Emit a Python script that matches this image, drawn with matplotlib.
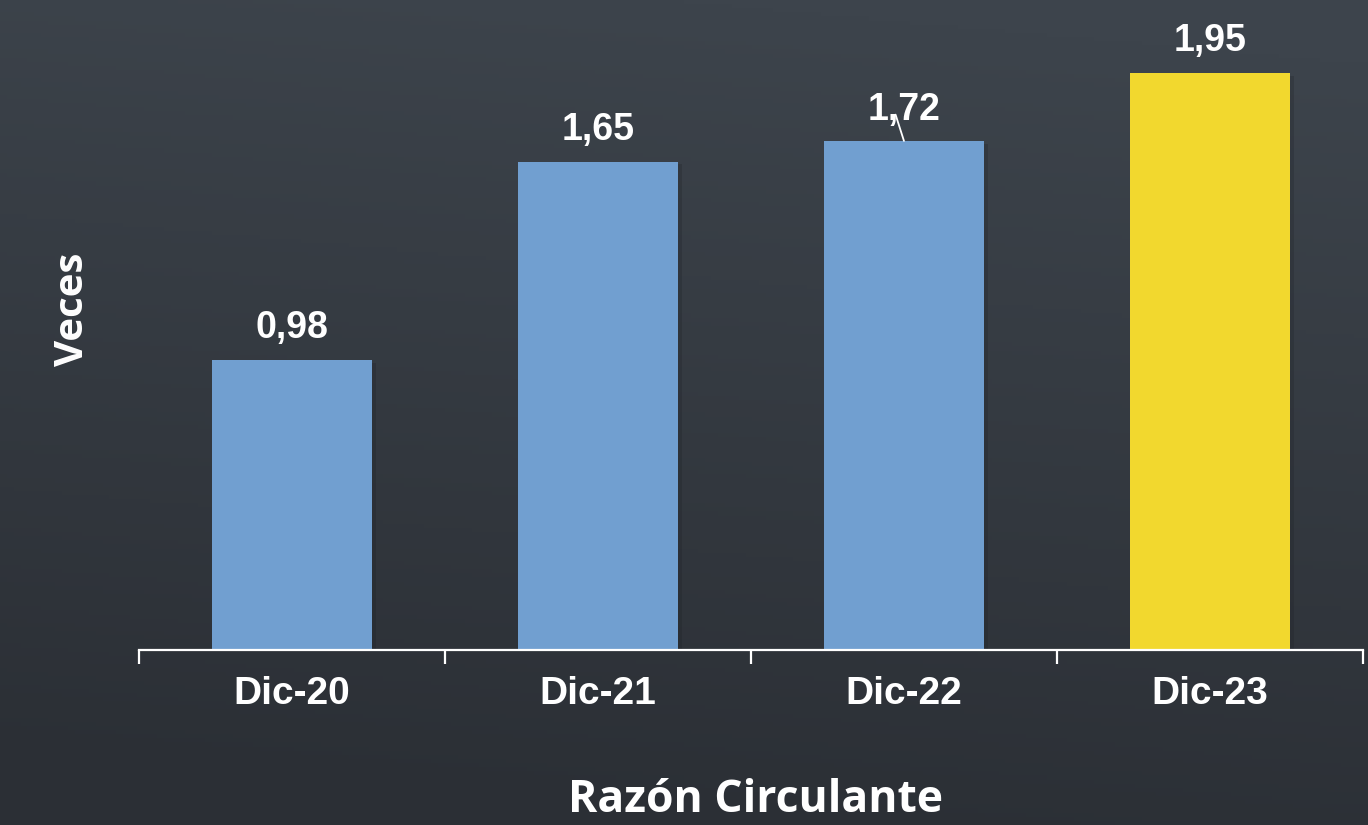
import numpy as np
import matplotlib
matplotlib.use("Agg")
import matplotlib.pyplot as plt
import matplotlib.patheffects as pe

categories = ["Dic-20", "Dic-21", "Dic-22", "Dic-23"]
values = [0.98, 1.65, 1.72, 1.95]
value_labels = ["0,98", "1,65", "1,72", "1,95"]
bar_colors = ["#719fd0", "#719fd0", "#719fd0", "#f2d82e"]
x_title = "Razón Circulante"
y_title = "Veces"

fig = plt.figure(figsize=(13.68, 8.25), dpi=100)

# background gradient
bg = fig.add_axes([0, 0, 1, 1])
h, w = 200, 200
yy, xx = np.mgrid[0:1:h*1j, 0:1:w*1j]
top = np.array([0x3d, 0x44, 0x4c]) / 255
bot = np.array([0x2b, 0x2f, 0x35]) / 255
t = np.clip(yy * 1.0 - 0.15 * (xx - 0.5), 0, 1)[..., None]
img = top * (1 - t) + bot * t
bg.imshow(img, extent=[0, 1, 0, 1], aspect="auto", origin="upper")
bg.axis("off")

ax = fig.add_axes([0.1016, 0.2121, 0.8947, 0.7879])
ax.patch.set_alpha(0)
x = np.arange(len(categories))
bars = ax.bar(x, values, width=0.525, color=bar_colors, zorder=3,
              path_effects=[pe.SimplePatchShadow(offset=(3, -2), shadow_rgbFace="#1e2126", alpha=0.25), pe.Normal()])
ax.set_xlim(-0.5, len(categories) - 0.5)
ax.set_ylim(0, 2.196)

for sp in ["top", "right", "left"]:
    ax.spines[sp].set_visible(False)
ax.spines["bottom"].set_color("white")
ax.spines["bottom"].set_linewidth(1.6)
ax.spines["bottom"].set_zorder(4)
ax.set_yticks([])
ax.set_xticks(x)
ax.set_xticklabels(categories, fontsize=28, fontweight="bold", color="white",
                   family="Liberation Sans")
ax.tick_params(axis="x", which="major", length=0, pad=19)
ax.set_xticks(np.arange(-0.5, len(categories), 1.0), minor=True)
ax.tick_params(axis="x", which="minor", length=10, width=1.6, color="white", direction="out")

for i, (v, lab) in enumerate(zip(values, value_labels)):
    if i == 2:
        ax.annotate(lab, xy=(i, v), xytext=(0, 22), textcoords="offset points",
                    ha="center", va="center", fontsize=27, fontweight="bold",
                    color="white", family="Liberation Sans", zorder=5,
                    arrowprops=dict(arrowstyle="-", color="white", lw=1.3,
                                    shrinkA=0, shrinkB=0, patchA=None,
                                    relpos=(0.385, 0.38)))
    else:
        ax.annotate(lab, xy=(i, v), xytext=(0, 23), textcoords="offset points",
                    ha="center", va="center", fontsize=27, fontweight="bold",
                    color="white", family="Liberation Sans")

fig.text(0.552, 0.030, x_title, ha="center", va="center", fontsize=32,
         fontweight="bold", color="white", family="Open Sans")
fig.text(0.053, 0.625, y_title, ha="center", va="center", rotation=90,
         fontsize=29, fontweight="bold", color="white", family="Open Sans")

fig.savefig("out.png", dpi=100)
